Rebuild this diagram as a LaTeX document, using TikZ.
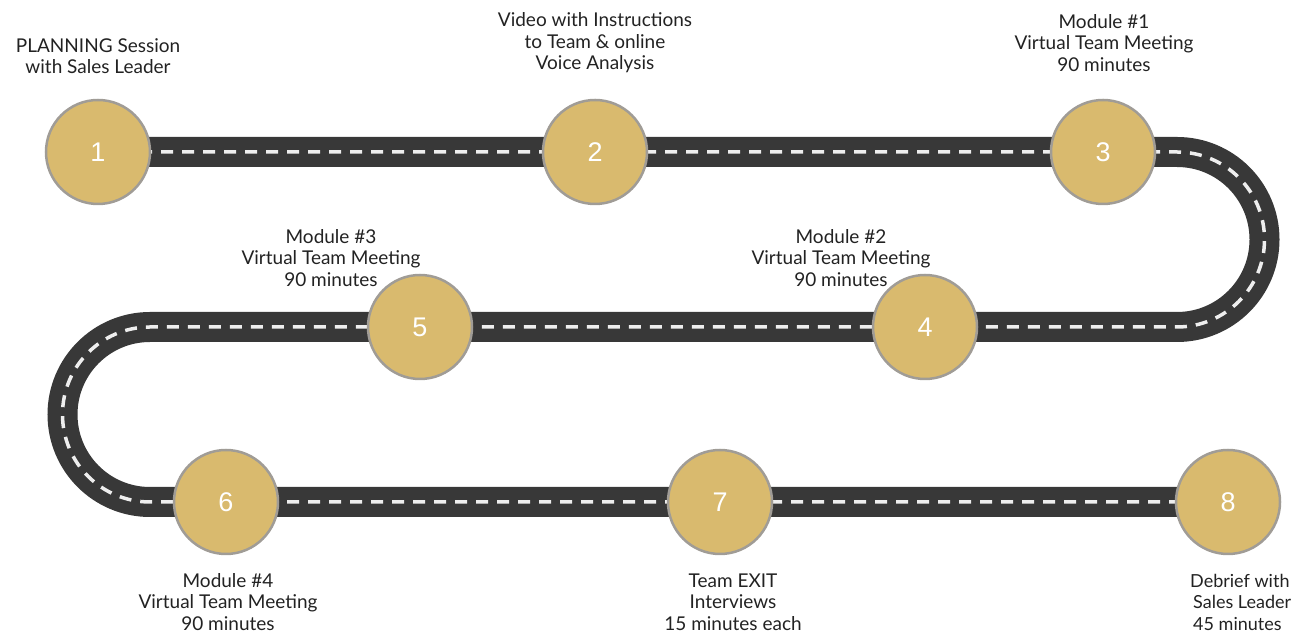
\documentclass[tikz,border=0pt]{standalone}
\usepackage{fontspec}
\setmainfont{Lato}
\newfontfamily\numfont{Liberation Sans}
\definecolor{roadgray}{HTML}{383838}
\definecolor{dashwhite}{HTML}{EEEEEE}
\definecolor{stopfill}{HTML}{D9BA6E}
\definecolor{stopedge}{HTML}{A09C96}
\definecolor{txt}{HTML}{222222}
\begin{document}
\begin{tikzpicture}[x=1pt,y=1pt,
  road/.style={draw=roadgray, line width=30pt},
  lane/.style={draw=dashwhite, line width=3.5pt, dash pattern=on 12pt off 9pt},
  stop/.style={circle, fill=stopfill, draw=stopedge, line width=2.5pt, minimum size=104pt, inner sep=0pt, text=white, font=\numfont\fontsize{27}{30}\selectfont},
  lbl/.style={align=center, text=txt, font=\fontsize{19}{21.5}\selectfont, inner sep=0pt}
]
\useasboundingbox (0,0) rectangle (1295,636);
% stop positions
\coordinate (p1) at (98,484);
\coordinate (p2) at (595,484);
\coordinate (p3) at (1103,484);
\coordinate (p4) at (925,309);
\coordinate (p5) at (420,309);
\coordinate (p6) at (226,134);
\coordinate (p7) at (720,134);
\coordinate (p8) at (1228,134);
% turn coordinates
\coordinate (r1) at (1177,484);
\coordinate (l1) at (150,309);
% road
\draw[road] (p1) -- (p2) -- (p3) -- (r1) arc[start angle=90, end angle=-90, radius=87.5] -- (p4) -- (p5) -- (l1) arc[start angle=90, end angle=270, radius=87.5] -- (p6) -- (p7) -- (p8);
\draw[lane] (p1) -- (p2) -- (p3) -- (r1) arc[start angle=90, end angle=-90, radius=87.5] -- (p4) -- (p5) -- (l1) arc[start angle=90, end angle=270, radius=87.5] -- (p6) -- (p7) -- (p8);
% stops on top
\foreach \n in {1,...,8} {\node[stop] (c\n) at (p\n) {\n};}
% labels
\node[lbl] (t1) at (98,580) {PLANNING Session\\with Sales Leader};
\node[lbl] (t2) at (595,593) {Video with Instructions\\to Team \& online\\Voice Analysis};
\node[lbl] (t3) at (1104,593) {Module \#1\\Virtual Team Meeting\\90 minutes};
\node[lbl] (t4) at (841,378) {Module \#2\\Virtual Team Meeting\\90 minutes};
\node[lbl] (t5) at (331,378) {Module \#3\\Virtual Team Meeting\\90 minutes};
\node[lbl] (t6) at (228,34) {Module \#4\\Virtual Team Meeting\\90 minutes};
\node[lbl] (t7) at (733,34) {Team EXIT\\Interviews\\15 minutes each};
\node[lbl, align=left, anchor=west, font=\fontsize{18}{21.5}\selectfont] (t8) at (1190,34) {Debrief with\\\hspace*{3pt}Sales Leader\\\hspace*{3pt}45 minutes};
\end{tikzpicture}
\end{document}
